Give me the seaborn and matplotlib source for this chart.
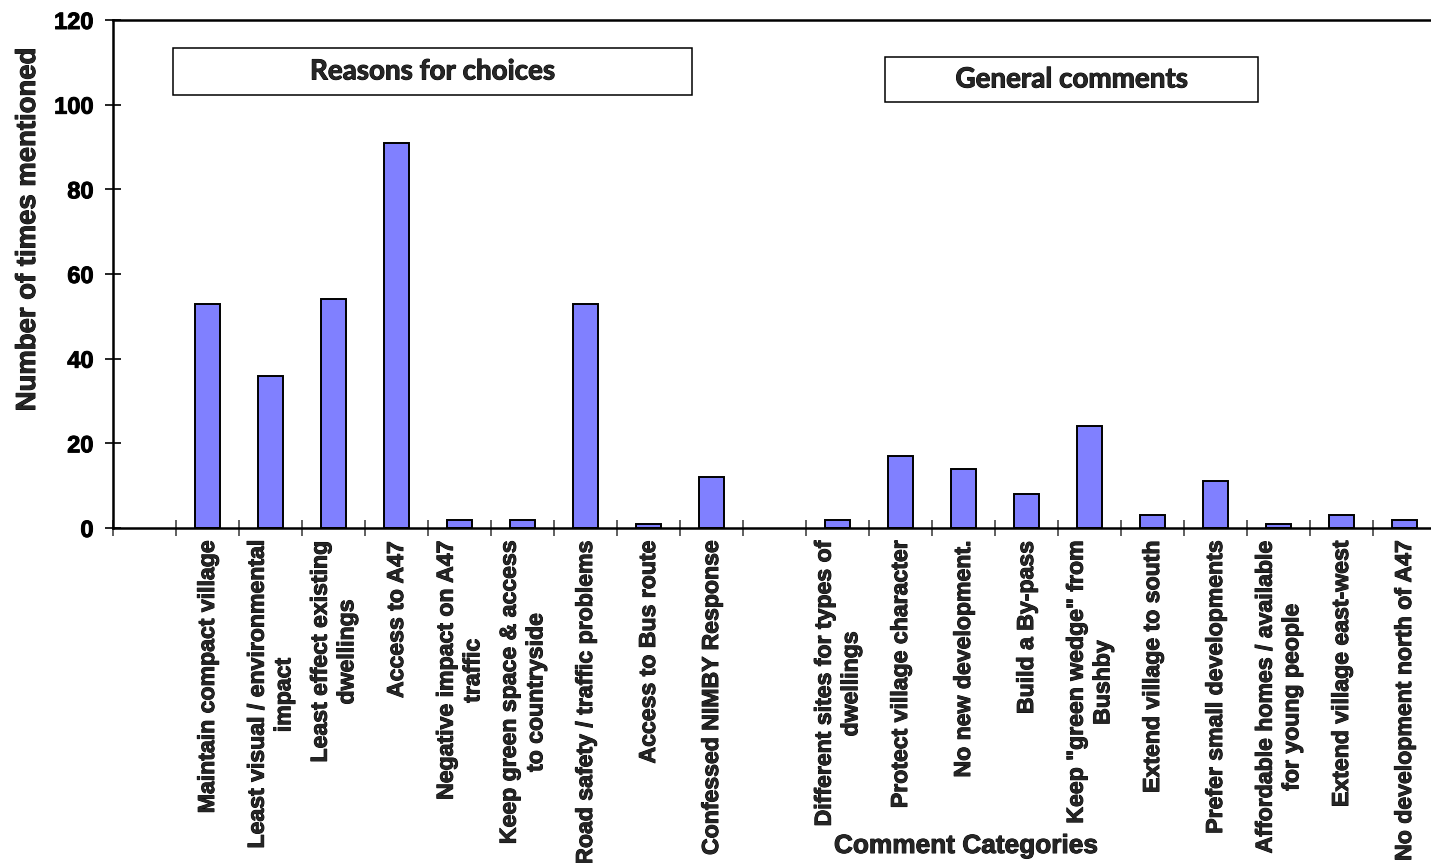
"""
plot.py
Bar chart of comment categories (reasons for choices / general comments).
"""

import matplotlib.patheffects as pe
import matplotlib.pyplot as plt
import pandas as pd
import seaborn as sns
from matplotlib.patches import Rectangle

reason_labels = [
    "Maintain compact village",
    "Least visual / environmental\nimpact",
    "Least effect existing\ndwellings",
    "Access to A47",
    "Negative impact on A47\ntraffic",
    "Keep green space & access\nto countryside",
    "Road safety / traffic problems",
    "Access to Bus route",
    "Confessed NIMBY Response",
]
reason_counts = [53, 36, 54, 91, 2, 2, 53, 1, 12]

general_labels = [
    "Different sites for types of\ndwellings",
    "Protect village character",
    "No new development.",
    "Build a By-pass",
    "Keep \"green wedge\" from\nBushby",
    "Extend village to south",
    "Prefer small developments",
    "Affordable homes / available\nfor young people",
    "Extend village east-west",
    "No development north of A47",
]
general_counts = [2, 17, 14, 8, 24, 3, 11, 1, 3, 2]

y_ticks = [0, 20, 40, 60, 80, 100, 120]

# makes the bold text a bit heavier, like the original
HEAVY = [pe.withStroke(linewidth=0.7, foreground="black")]


def main():
    """Script entry point"""
    sns.set_theme(style="white")
    plt.rcParams["font.family"] = ["Liberation Sans", "DejaVu Sans"]

    df = pd.DataFrame(
        {
            "category": reason_labels + general_labels,
            "count": reason_counts + general_counts,
        }
    )
    # empty slots before each group
    order = [""] + reason_labels + [" "] + general_labels

    W, H = 1431, 863
    fig = plt.figure(figsize=(W / 100, H / 100), dpi=100)
    left, right, top, bottom = 113, 1436, 20, 528
    ax = fig.add_axes(
        [left / W, 1 - bottom / H, (right - left) / W, (bottom - top) / H]
    )

    sns.barplot(
        data=df,
        x="category",
        y="count",
        order=order,
        color="#8080FF",
        saturation=1,
        width=0.4,
        edgecolor="black",
        linewidth=1.4,
        ax=ax,
    )

    ax.set_xlim(-0.5, len(order) - 0.5)
    ax.set_ylim(0, 120)
    ax.set_yticks(y_ticks)
    ax.set_yticklabels([str(v) for v in y_ticks], fontsize=17, fontweight="bold",
                       path_effects=HEAVY)
    ax.tick_params(axis="y", direction="inout", length=12, width=1.2, pad=8,
                   left=True, colors="black")

    ax.set_xticks(range(len(order)))
    ax.set_xticklabels(order, rotation=90, ha="center", va="top",
                       multialignment="center", fontsize=16.6, fontweight="bold",
                       path_effects=HEAVY)
    ax.tick_params(axis="x", which="major", length=0, pad=10)
    ax.set_xticks([i - 0.5 for i in range(len(order) + 1)], minor=True)
    ax.tick_params(axis="x", which="minor", direction="inout", length=12,
                   width=1.2, bottom=True, color="#444444")

    for spine in ax.spines.values():
        spine.set_visible(True)
        spine.set_color("black")
        spine.set_linewidth(1.8)

    ax.set_ylabel("Number of times mentioned", fontsize=19.8, fontweight="bold",
                  path_effects=HEAVY)
    ax.yaxis.set_label_coords((28 - left) / (right - left), (bottom - 229) / (bottom - top))
    ax.yaxis.label.set_va("center")
    ax.set_xlabel("Comment Categories", fontsize=18.9, fontweight="bold",
                  path_effects=HEAVY)
    ax.xaxis.set_label_coords((966 - left) / (right - left), (bottom - 846) / (bottom - top))
    ax.xaxis.label.set_va("center")

    # group boxes
    boxes = [
        ("Reasons for choices", 173, 48, 692, 95),
        ("General comments", 885, 57, 1258, 102),
    ]
    for text, x0, y0, x1, y1 in boxes:
        fig.patches.append(
            Rectangle(
                (x0 / W, 1 - y1 / H),
                (x1 - x0) / W,
                (y1 - y0) / H,
                transform=fig.transFigure,
                facecolor="white",
                edgecolor="black",
                linewidth=1.1,
                zorder=5,
            )
        )
        fig.text(
            (x0 + x1) / 2 / W,
            1 - (y0 + y1) / 2 / H,
            text,
            ha="center",
            va="center",
            fontsize=20,
            fontweight="bold",
            family=["Lato", "DejaVu Sans"],
            path_effects=HEAVY,
            zorder=6,
        )

    fig.savefig("out.png", dpi=100)


if __name__ == "__main__":
    main()
